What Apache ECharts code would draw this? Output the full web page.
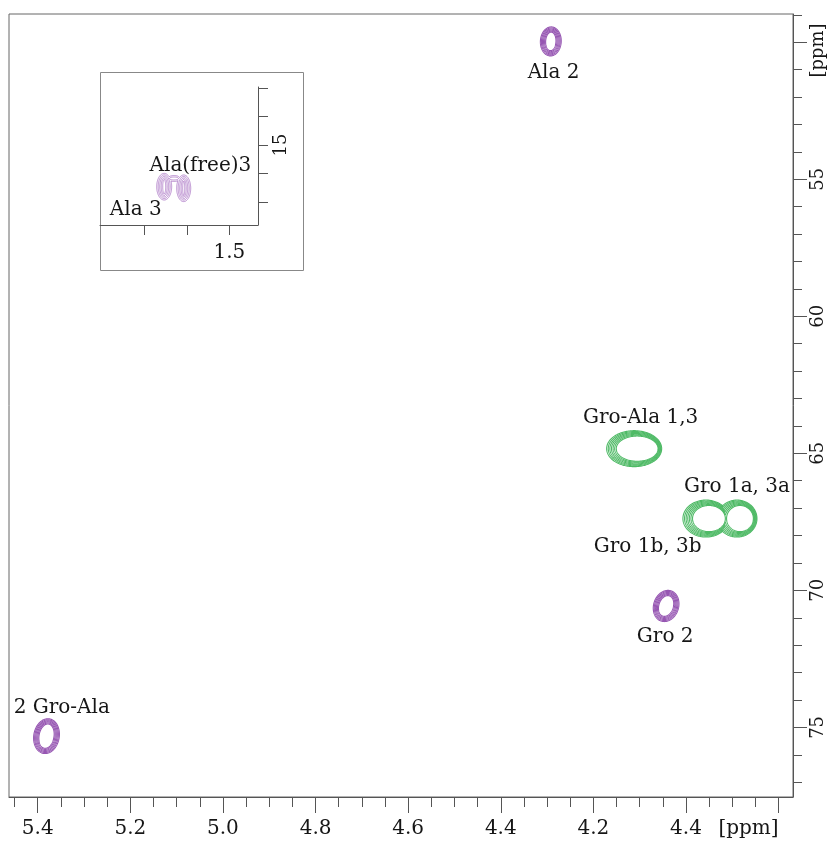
<!DOCTYPE html>
<html><head><meta charset="utf-8">
<script src="https://cdn.jsdelivr.net/npm/echarts@6/dist/echarts.min.js"></script>
<style>html,body{margin:0;padding:0;background:#fff}#c{width:838px;height:843px}</style>
</head><body><div id="c"></div>
<script>
// ---------- axis ticks / labels (main spectrum) ----------
const xMajorTicks = [5.4, 5.2, 5.0, 4.8, 4.6, 4.4, 4.2, 4.0, 3.8];
const xTickValues = [5.4, 5.2, 5.0, 4.8, 4.6, 4.4, 4.2, 4.0, 3.865];
const xTickLabels = ['5.4', '5.2', '5.0', '4.8', '4.6', '4.4', '4.2', '4.4', '[ppm]'];
const yMajorTicks = [50, 55, 60, 65, 70, 75];
const yTickValues = [50.3, 55, 60, 65, 70, 75];
const yTickLabels = ['[ppm]', '55', '60', '65', '70', '75'];
const xRange = [3.769, 5.462];
const yRange = [48.97, 77.54];

// ---------- peaks (main spectrum): one entry per contour lobe ----------
const lobeH  = [4.292, 4.112, 3.957, 3.890, 4.043, 5.381];   // 1H ppm
const lobeC  = [49.97, 64.83, 67.38, 67.38, 70.57, 75.32];   // 13C ppm
const lobeWH = [0.0225, 0.0594, 0.0497, 0.0432, 0.0270, 0.0275]; // half width 1H
const lobeWC = [0.53, 0.657, 0.675, 0.675, 0.58, 0.64];          // half width 13C
const lobeTilt = [3, 0, 0, 0, 18, 10];
const peakGroups = [[0], [1], [2, 3], [4], [5]];
const peakKind = ['purple', 'green', 'green', 'purple', 'purple'];

// ---------- peak labels (main) ----------
const labelText = ['Ala 2', 'Gro-Ala 1,3', 'Gro 1a, 3a', 'Gro 1b, 3b', 'Gro 2', '2 Gro-Ala'];
const labelH = [4.286, 4.098, 3.890, 4.083, 4.045, 5.348];
const labelC = [51.12, 63.71, 66.23, 68.42, 71.70, 74.30];

// ---------- inset (Ala 3 methyl region) ----------
const insetXRange = [1.4325, 1.8042];
const insetYRange = [12.965, 17.807];
const insetXTicks = [1.7, 1.6, 1.5];
const insetXLabelValues = [1.5];
const insetXLabels = ['1.5'];
const insetYTicks = [13, 14, 15, 16, 17];
const insetYLabelValues = [15];
const insetYLabels = ['15'];
const insetLobeH  = [1.6532, 1.6073, 1.630];
const insetLobeC  = [16.463, 16.519, 16.175];
const insetLobeWH = [0.0176, 0.0165, 0.0141];
const insetLobeWC = [0.467, 0.467, 0.105];
const insetGroups = [[0, 1, 2]];
const insetLabelText = ['Ala(free)3', 'Ala 3'];
const insetLabelH = [1.568, 1.72];
const insetLabelC = [15.74, 17.27];

// ---------- styles ----------
const FONT = 'DejaVu Serif';
const AX = '#555';
const TXT = '#161616';
const ringStyles = {
  purple: { n: 6, sx: 1.05, sy: 1.05, fan: 0, color: '#9656b2', width: 1.1 },
  green:  { n: 7, sx: 1.1, sy: 0.9, fan: 0.5, color: '#4fba66', width: 1.1 },
  inset:  { n: 5, sx: 1.5, sy: 1.5, fan: 0, color: '#a56cc0', width: 0.8 }
};

function lookup(vals, texts) {
  return function (v) {
    for (let i = 0; i < vals.length; i++) if (Math.abs(v - vals[i]) < 1e-6) return texts[i];
    return '';
  };
}
const xMinorTicks = [];
for (let k = 0; k <= 33; k++) xMinorTicks.push(+(3.80 + 0.05 * k).toFixed(2));
const yMinorTicks = [];
for (let k = 49; k <= 77; k++) yMinorTicks.push(k);

function inEllipse(o, px, py) {
  const dx = px - o.cx, dy = py - o.cy;
  const c = Math.cos(o.t), s = Math.sin(o.t);
  const u = dx * c + dy * s, v = -dx * s + dy * c;
  return (u / o.rx) * (u / o.rx) + (v / o.ry) * (v / o.ry) < 1;
}

function makeRenderer(groups, H, C, WH, WC, tilt, kinds) {
  return function (params, api) {
    const g = groups[params.dataIndex];
    const st = ringStyles[kinds[params.dataIndex]];
    const lobes = g.map(k => {
      const c = api.coord([H[k], C[k]]);
      const s = api.size([WH[k], WC[k]]);
      return { cx: c[0], cy: c[1], rx: s[0], ry: s[1], t: (tilt ? tilt[k] : 0) * Math.PI / 180 };
    });
    const style = { fill: 'none', stroke: st.color, lineWidth: st.width };
    const children = [];
    for (let i = 0; i < st.n; i++) {
      const L = lobes.map(l => ({ cx: l.cx + st.fan * i, cy: l.cy, rx: l.rx - st.sx * i, ry: l.ry - st.sy * i, t: l.t }))
        .filter(l => l.rx > 0.8 && l.ry > 0.8);
      L.forEach((l, j) => {
        const M = 180, pts = [], inside = [];
        for (let m = 0; m < M; m++) {
          const a = 2 * Math.PI * m / M;
          const ex = l.rx * Math.cos(a), ey = l.ry * Math.sin(a);
          const px = l.cx + ex * Math.cos(l.t) - ey * Math.sin(l.t);
          const py = l.cy + ex * Math.sin(l.t) + ey * Math.cos(l.t);
          pts.push([px, py]);
          inside.push(L.some((o, q) => q !== j && inEllipse(o, px, py)));
        }
        const start = inside.indexOf(true);
        if (start < 0) {
          children.push({ type: 'polygon', shape: { points: pts }, style: style });
          return;
        }
        let run = [];
        for (let s = 1; s <= M; s++) {
          const idx = (start + s) % M;
          if (!inside[idx]) {
            if (run.length === 0) run.push(pts[(idx - 1 + M) % M]);
            run.push(pts[idx]);
          } else if (run.length) {
            run.push(pts[idx]);
            children.push({ type: 'polyline', shape: { points: run }, style: style });
            run = [];
          }
        }
        if (run.length > 1) children.push({ type: 'polyline', shape: { points: run }, style: style });
      });
    }
    return { type: 'group', children: children };
  };
}

// peak labels drawn as text elements positioned through the axes
function makeLabelRenderer(texts) {
  return function (params, api) {
    const p = api.coord([api.value(0), api.value(1)]);
    return { type: 'text', x: p[0], y: p[1],
      style: { text: texts[params.dataIndex], fill: TXT, font: '20px "' + FONT + '"', align: 'center', verticalAlign: 'middle' } };
  };
}

const chart = echarts.init(document.getElementById('c'));
chart.setOption({
  animation: false,
  backgroundColor: '#fff',
  grid: [
    { left: 9, top: 14, width: 784, height: 783, show: true, borderColor: '#666', borderWidth: 1, backgroundColor: 'transparent' },
    { left: 100, top: 87, width: 158, height: 138, show: false }
  ],
  graphic: [
    { type: 'rect', z: -1, shape: { x: 100.5, y: 72.5, width: 203, height: 198 }, style: { fill: 'none', stroke: '#888', lineWidth: 1 } }
  ],
  xAxis: [
    { gridIndex: 0, type: 'value', min: xRange[0], max: xRange[1], inverse: true, position: 'bottom',
      axisLine: { show: true, lineStyle: { color: AX } },
      axisTick: { show: true, length: 16, customValues: xMajorTicks, lineStyle: { color: AX } },
      axisLabel: { customValues: xTickValues, formatter: lookup(xTickValues, xTickLabels), fontFamily: FONT, fontSize: 20, color: TXT, margin: 22 },
      splitLine: { show: false } },
    { gridIndex: 0, type: 'value', min: xRange[0], max: xRange[1], inverse: true, position: 'bottom',
      axisLine: { show: false },
      axisTick: { show: true, length: 10, customValues: xMinorTicks, lineStyle: { color: AX } },
      axisLabel: { show: false }, splitLine: { show: false } },
    { gridIndex: 1, type: 'value', min: insetXRange[0], max: insetXRange[1], inverse: true, position: 'bottom',
      axisLine: { show: true, lineStyle: { color: AX } },
      axisTick: { show: true, length: 10, customValues: insetXTicks, lineStyle: { color: AX } },
      axisLabel: { customValues: insetXLabelValues, formatter: lookup(insetXLabelValues, insetXLabels), fontFamily: FONT, fontSize: 20, color: TXT, margin: 18 },
      splitLine: { show: false } }
  ],
  yAxis: [
    { gridIndex: 0, type: 'value', min: yRange[0], max: yRange[1], inverse: true, position: 'right',
      axisLine: { show: true, lineStyle: { color: AX } },
      axisTick: { show: true, length: 14, customValues: yMajorTicks, lineStyle: { color: AX } },
      axisLabel: { customValues: yTickValues, formatter: lookup(yTickValues, yTickLabels), rotate: 90, fontFamily: FONT, fontSize: 18, color: TXT, margin: 16 },
      splitLine: { show: false } },
    { gridIndex: 0, type: 'value', min: yRange[0], max: yRange[1], inverse: true, position: 'right',
      axisLine: { show: false },
      axisTick: { show: true, length: 9, customValues: yMinorTicks, lineStyle: { color: AX } },
      axisLabel: { show: false }, splitLine: { show: false } },
    { gridIndex: 1, type: 'value', min: insetYRange[0], max: insetYRange[1], inverse: true, position: 'right',
      axisLine: { show: true, lineStyle: { color: AX } },
      axisTick: { show: true, length: 10, customValues: insetYTicks, lineStyle: { color: AX } },
      axisLabel: { customValues: insetYLabelValues, formatter: lookup(insetYLabelValues, insetYLabels), rotate: 90, fontFamily: FONT, fontSize: 18, color: TXT, margin: 14 },
      splitLine: { show: false } }
  ],
  series: [
    { type: 'custom', xAxisIndex: 0, yAxisIndex: 0, clip: false, silent: true,
      renderItem: makeRenderer(peakGroups, lobeH, lobeC, lobeWH, lobeWC, lobeTilt, peakKind),
      data: peakGroups.map(g => [lobeH[g[0]], lobeC[g[0]]]) },
    { type: 'custom', xAxisIndex: 0, yAxisIndex: 0, clip: false, silent: true, z: 5,
      renderItem: makeLabelRenderer(labelText),
      data: labelText.map((t, i) => [labelH[i], labelC[i]]) },
    { type: 'custom', xAxisIndex: 2, yAxisIndex: 2, clip: false, silent: true,
      renderItem: makeRenderer(insetGroups, insetLobeH, insetLobeC, insetLobeWH, insetLobeWC, null, ['inset']),
      data: insetGroups.map(g => [insetLobeH[g[0]], insetLobeC[g[0]]]) },
    { type: 'custom', xAxisIndex: 2, yAxisIndex: 2, clip: false, silent: true, z: 5,
      renderItem: makeLabelRenderer(insetLabelText),
      data: insetLabelText.map((t, i) => [insetLabelH[i], insetLabelC[i]]) }
  ]
});
</script></body></html>
